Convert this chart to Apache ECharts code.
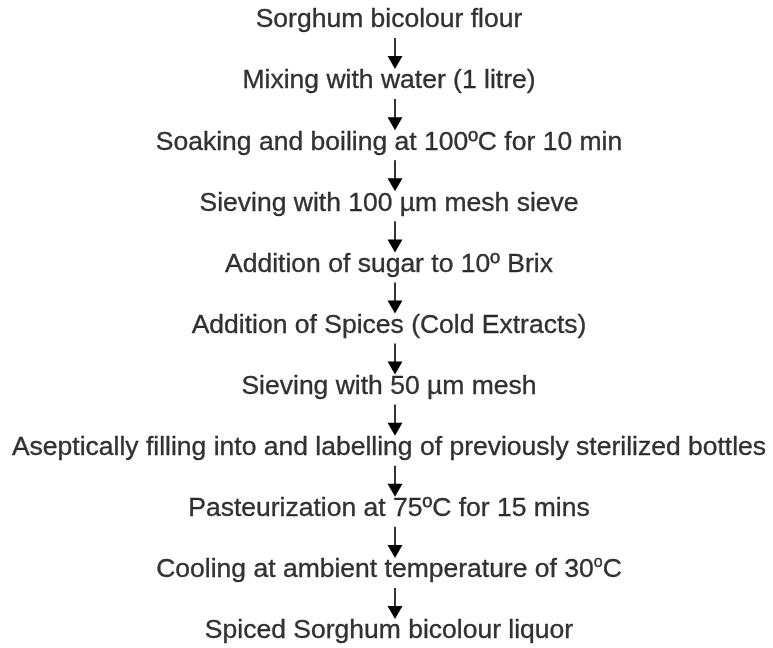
<!DOCTYPE html>
<html>
<head>
<meta charset="utf-8">
<script src="https://cdn.jsdelivr.net/npm/echarts@6/dist/echarts.min.js"></script>
<style>html,body{margin:0;padding:0;background:#fff}#c{width:773px;height:648px}</style>
</head>
<body>
<div id="c"></div>
<script>
const steps = [
  'Sorghum bicolour flour',
  'Mixing with water (1 litre)',
  'Soaking and boiling at 100ºC for 10 min',
  'Sieving with 100 µm mesh sieve',
  'Addition of sugar to 10º Brix',
  'Addition of Spices (Cold Extracts)',
  'Sieving with 50 µm mesh',
  'Aseptically filling into and labelling of previously sterilized bottles',
  'Pasteurization at 75ºC for 15 mins',
  'Cooling at ambient temperature of 30{sup|o}C',
  'Spiced Sorghum bicolour liquor'
];
const stepIndex = steps.map((s, i) => i);
const arrows = stepIndex.slice(0, -1).map(i => [i, i + 1]);
const centerX = 50;

function toRich(s) {
  return s.split(/(\{sup\|[^}]*\})/).filter(t => t).map(t =>
    t.startsWith('{sup|') ? t : '{n|' + t + '}'
  ).join('');
}

const chart = echarts.init(document.getElementById('c'), null, {renderer: 'canvas'});
chart.setOption({
  animation: false,
  backgroundColor: '#fff',
  grid: {left: 5, right: 0, top: 20, bottom: 17},
  xAxis: {type: 'value', min: 0, max: 100, show: false},
  yAxis: {type: 'value', min: 0, max: steps.length - 1, inverse: true, show: false},
  series: [
    {
      type: 'scatter',
      symbolSize: 0,
      silent: true,
      data: stepIndex.map(i => [centerX, i]),
      label: {
        show: true,
        position: 'inside',
        formatter: p => toRich(steps[p.dataIndex]),
        color: '#000',
        fontSize: 26.5,
        fontFamily: 'Liberation Sans',
        rich: {
          n: {fontSize: 26.5, color: '#000', fontFamily: 'Liberation Sans', lineHeight: 30, textBorderColor: '#000', textBorderWidth: 0.35},
          sup: {fontSize: 16, color: '#000', fontFamily: 'Liberation Sans', lineHeight: 16, verticalAlign: 'top', textBorderColor: '#000', textBorderWidth: 0.3}
        }
      }
    },
    {
      type: 'custom',
      silent: true,
      data: arrows,
      renderItem: function (params, api) {
        const a = api.coord([centerX, api.value(0)]);
        const b = api.coord([centerX, api.value(1)]);
        const x = a[0] + 6;
        const y0 = a[1] + 18;
        const y1 = b[1] - 12;
        const hh = 13, hw = 7.5;
        return {
          type: 'group',
          children: [
            {type: 'line', shape: {x1: x, y1: y0, x2: x, y2: y1 - hh + 1}, style: {stroke: '#000', lineWidth: 1.6}},
            {type: 'polygon', shape: {points: [[x - hw, y1 - hh], [x + hw, y1 - hh], [x, y1]]}, style: {fill: '#000'}}
          ]
        };
      }
    }
  ]
});
</script>
</body>
</html>
